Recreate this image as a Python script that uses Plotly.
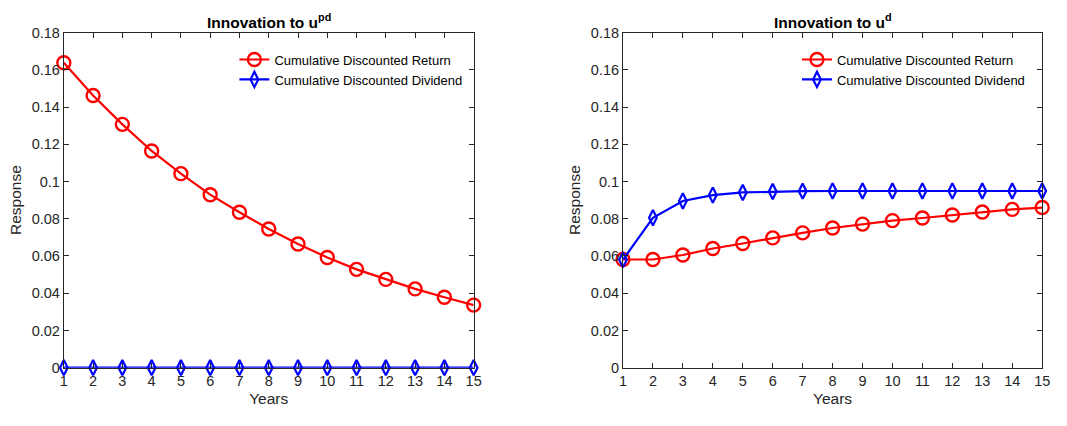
import plotly.graph_objects as go

years = list(range(1, 16))
pd_return = [0.1638, 0.1462, 0.1307, 0.1164, 0.1042, 0.0929, 0.0835, 0.0745,
             0.0664, 0.0592, 0.0528, 0.0474, 0.0423, 0.0378, 0.0336]
pd_dividend = [0.0] * 15
d_return = [0.0581, 0.0581, 0.0605, 0.0640, 0.0667, 0.0697, 0.0724, 0.0750,
            0.0771, 0.0790, 0.0804, 0.0820, 0.0836, 0.0850, 0.0860]
d_dividend = [0.0580, 0.0805, 0.0895, 0.0927, 0.0941, 0.0946, 0.0948, 0.0949,
              0.0949, 0.0949, 0.0949, 0.0949, 0.0949, 0.0949, 0.0949]
y_ticks = [0, 0.02, 0.04, 0.06, 0.08, 0.1, 0.12, 0.14, 0.16, 0.18]
y_ticklabels = ["0", "0.02", "0.04", "0.06", "0.08", "0.1", "0.12", "0.14", "0.16", "0.18"]
titles = ["Innovation to u<sup>pd</sup>", "Innovation to u<sup>d</sup>"]
ret_name = "Cumulative Discounted Return"
div_name = "Cumulative Discounted Dividend"

W, H = 1067, 426

def px(x):
    return x / W

def py(y):
    return 1 - y / H

font = "Liberation Sans, Arial, Helvetica, sans-serif"
tc = "#262626"

fig = go.Figure()

def add_pair(xa, ya, leg, ret, div):
    fig.add_trace(go.Scatter(x=years, y=ret, name=ret_name, xaxis=xa, yaxis=ya, legend=leg,
                             mode="lines+markers", cliponaxis=False,
                             line=dict(color="#ff0000", width=2.2),
                             marker=dict(symbol="circle-open", size=13, color="#ff0000",
                                         line=dict(width=2.4, color="#ff0000"))))
    fig.add_trace(go.Scatter(x=years, y=div, name=div_name, xaxis=xa, yaxis=ya, legend=leg,
                             mode="lines+markers", cliponaxis=False,
                             line=dict(color="#0000ff", width=2.2),
                             marker=dict(symbol="diamond-tall-open", size=11, color="#0000ff",
                                         line=dict(width=2.2, color="#0000ff"))))

add_pair("x", "y", "legend", pd_return, pd_dividend)
add_pair("x2", "y2", "legend2", d_return, d_dividend)

yd = [py(373.7), py(25.5)]
xd1 = [px(60.5), px(475)]
xd2 = [px(626), px(1050)]

def xaxis(dom, anchor):
    return dict(domain=dom, anchor=anchor, range=[1, 15], tickmode="array", tickvals=years,
                ticks="inside", ticklen=5, tickcolor=tc, showline=True, linecolor=tc, linewidth=1,
                mirror="ticks", showgrid=False, zeroline=False,
                tickfont=dict(family=font, size=14.5, color=tc),
                title=dict(text="Years", font=dict(family=font, size=15.5, color=tc), standoff=5))

def yaxis(anchor):
    return dict(domain=yd, anchor=anchor, range=[0, 0.18], tickmode="array",
                tickvals=y_ticks, ticktext=y_ticklabels,
                ticks="inside", ticklen=5, tickcolor=tc, showline=True, linecolor=tc, linewidth=1,
                mirror="ticks", showgrid=False, zeroline=False,
                tickfont=dict(family=font, size=14.5, color=tc),
                title=dict(text="Response", font=dict(family=font, size=15.5, color=tc), standoff=6))

def legend(xpx):
    return dict(x=px(xpx), y=py(38), xanchor="left", yanchor="top",
                bgcolor="rgba(255,255,255,0)", borderwidth=0,
                font=dict(family=font, size=13, color="#000000"),
                tracegroupgap=0, itemwidth=30)

annotations = []
for t, dom in zip(titles, [xd1, xd2]):
    annotations.append(dict(text="<b>" + t + "</b>", x=(dom[0] + dom[1]) / 2, y=py(14),
                            xref="paper", yref="paper", xanchor="center", yanchor="middle",
                            showarrow=False, font=dict(family=font, size=15.5, color="#000000")))

fig.update_layout(
    width=W, height=H, margin=dict(l=0, r=0, t=0, b=0),
    paper_bgcolor="white", plot_bgcolor="white",
    xaxis=xaxis(xd1, "y"), yaxis=yaxis("x"),
    xaxis2=xaxis(xd2, "y2"), yaxis2=yaxis("x2"),
    legend=legend(233), legend2=legend(802),
    annotations=annotations, showlegend=True,
)

post = ("document.documentElement.style.margin='0';document.documentElement.style.padding='0';"
        "document.documentElement.style.overflow='hidden';"
        "document.body.style.margin='0';document.body.style.padding='0';"
        "document.body.style.overflow='hidden';")

fig.write_html("out.html", post_script=post)
